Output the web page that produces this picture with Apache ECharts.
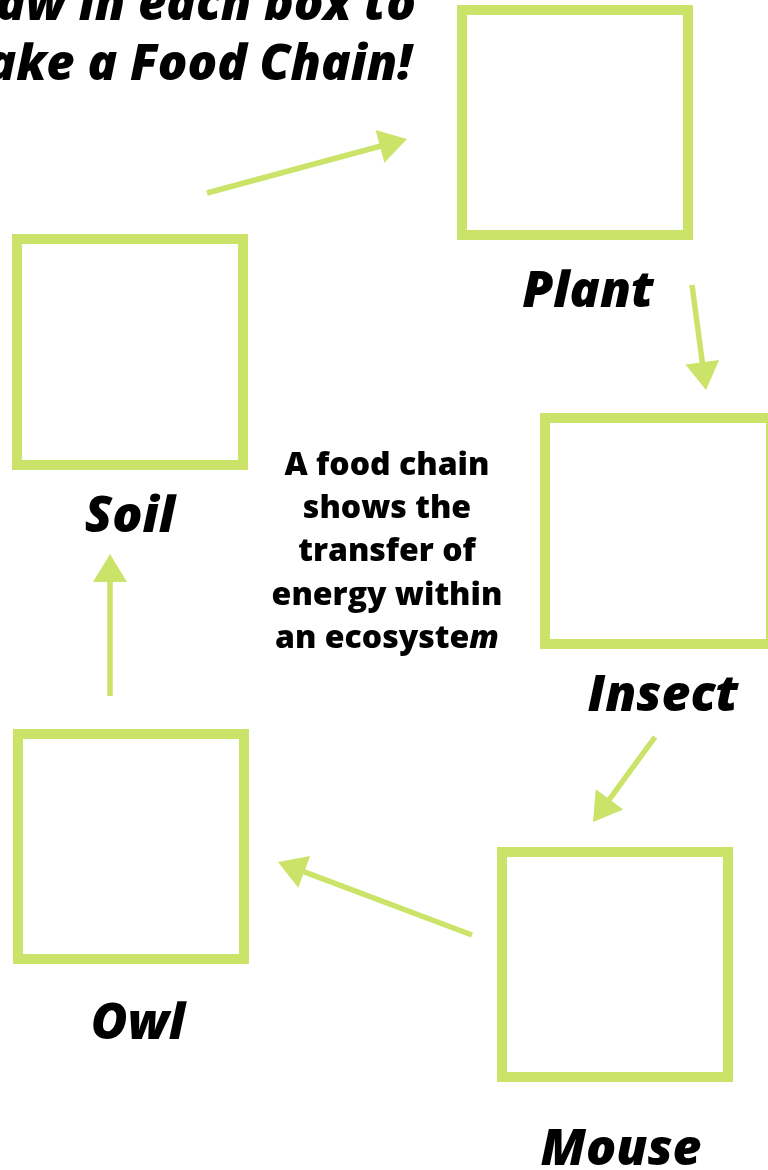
<!DOCTYPE html>
<html>
<head>
<meta charset="UTF-8">
<title>Food Chain</title>
<script src="https://cdn.jsdelivr.net/npm/echarts@6/dist/echarts.min.js"></script>
<style>
html, body { margin: 0; padding: 0; background: #fff; }
#chart { width: 768px; height: 1170px; }
</style>
</head>
<body>
<div id="chart"></div>
<script>
// boxes (page coordinates, y grows downward)
var boxNames = ['Plant', 'Soil', 'Insect', 'Owl', 'Mouse'];
var boxLeft = [457, 12, 540, 13, 497];
var boxTop = [5, 234, 413, 729, 847];
var boxRight = [693, 248, 776, 249, 733];
var boxBottom = [240, 470, 649, 964, 1082];
// label baselines under each box
var labelX = [588, 130, 663, 138, 621];
var labelY = [308, 533, 712, 1040, 1166];
// arrows: soil->plant, plant->insect, insect->mouse, mouse->owl, owl->soil
var arrowFromX = [207, 692, 655, 472, 110];
var arrowFromY = [193, 285, 737, 935, 696];
var arrowToX = [407, 706, 593, 278, 110];
var arrowToY = [139, 390, 822, 862, 554];
var titleLines = ['Draw in each box to', 'make a Food Chain!'];
var noteLines = ['A food chain', 'shows the', 'transfer of', 'energy within', 'an ecosystem'];

var GREEN = '#cbe369';
var FONT = '"Open Sans", "Noto Sans", sans-serif';

var chart = echarts.init(document.getElementById('chart'));

var boxData = boxNames.map(function (n, i) {
	return [boxLeft[i], boxTop[i], boxRight[i], boxBottom[i]];
});
var labelData = boxNames.map(function (n, i) {
	return [labelX[i], labelY[i]];
});
var arrowData = arrowFromX.map(function (x, i) {
	return [x, arrowFromY[i], arrowToX[i], arrowToY[i]];
});

// last letter of the note is set in italic
var noteRich = noteLines.map(function (line, i) {
	if (i === noteLines.length - 1) {
		return '{n|' + line.slice(0, -1) + '}{i|' + line.slice(-1) + '}';
	}
	return '{n|' + line + '}';
}).join('\n');

chart.setOption({
	animation: false,
	backgroundColor: '#fff',
	grid: { left: 0, right: 0, top: 0, bottom: 0 },
	xAxis: { type: 'value', min: 0, max: 768, show: false },
	yAxis: { type: 'value', min: 0, max: 1170, inverse: true, show: false },
	graphic: [{
		type: 'text',
		right: 352,
		top: -24,
		style: {
			text: titleLines.join('\n'),
			font: 'italic 800 49px ' + FONT,
			fill: '#000',
			align: 'right',
			lineHeight: 60
		}
	}, {
		type: 'text',
		x: 387,
		y: 444,
		style: {
			text: noteRich,
			align: 'center',
			verticalAlign: 'top',
			fill: '#000',
			rich: {
				n: { font: '800 32px ' + FONT, lineHeight: 43.3, fill: '#000' },
				i: { font: 'italic 800 32px ' + FONT, lineHeight: 43.3, fill: '#000' }
			}
		}
	}],
	series: [{
		type: 'custom',
		name: 'boxes',
		data: boxData,
		renderItem: function (params, api) {
			var p0 = api.coord([api.value(0), api.value(1)]);
			var p1 = api.coord([api.value(2), api.value(3)]);
			var w = 10;
			return {
				type: 'rect',
				shape: {
					x: p0[0] + w / 2,
					y: p0[1] + w / 2,
					width: p1[0] - p0[0] - w,
					height: p1[1] - p0[1] - w
				},
				style: { fill: 'none', stroke: GREEN, lineWidth: w }
			};
		}
	}, {
		type: 'custom',
		name: 'arrows',
		data: arrowData,
		renderItem: function (params, api) {
			var a = api.coord([api.value(0), api.value(1)]);
			var b = api.coord([api.value(2), api.value(3)]);
			var dx = b[0] - a[0], dy = b[1] - a[1];
			var len = Math.sqrt(dx * dx + dy * dy);
			var ux = dx / len, uy = dy / len;
			var headLen = 28, headW = 34;
			var bx = b[0] - ux * headLen, by = b[1] - uy * headLen;
			return {
				type: 'group',
				children: [{
					type: 'line',
					shape: { x1: a[0], y1: a[1], x2: bx + ux * 2, y2: by + uy * 2 },
					style: { stroke: GREEN, lineWidth: 5.5 }
				}, {
					type: 'polygon',
					shape: {
						points: [
							[b[0], b[1]],
							[bx - uy * headW / 2, by + ux * headW / 2],
							[bx + uy * headW / 2, by - ux * headW / 2]
						]
					},
					style: { fill: GREEN }
				}]
			};
		}
	}, {
		type: 'custom',
		name: 'labels',
		data: labelData,
		renderItem: function (params, api) {
			var p = api.coord([api.value(0), api.value(1)]);
			return {
				type: 'text',
				x: p[0],
				y: p[1] + 10,
				style: {
					text: boxNames[params.dataIndex],
					font: 'italic 800 50px ' + FONT,
					fill: '#000',
					align: 'center',
					verticalAlign: 'bottom'
				}
			};
		}
	}]
});
</script>
</body>
</html>
